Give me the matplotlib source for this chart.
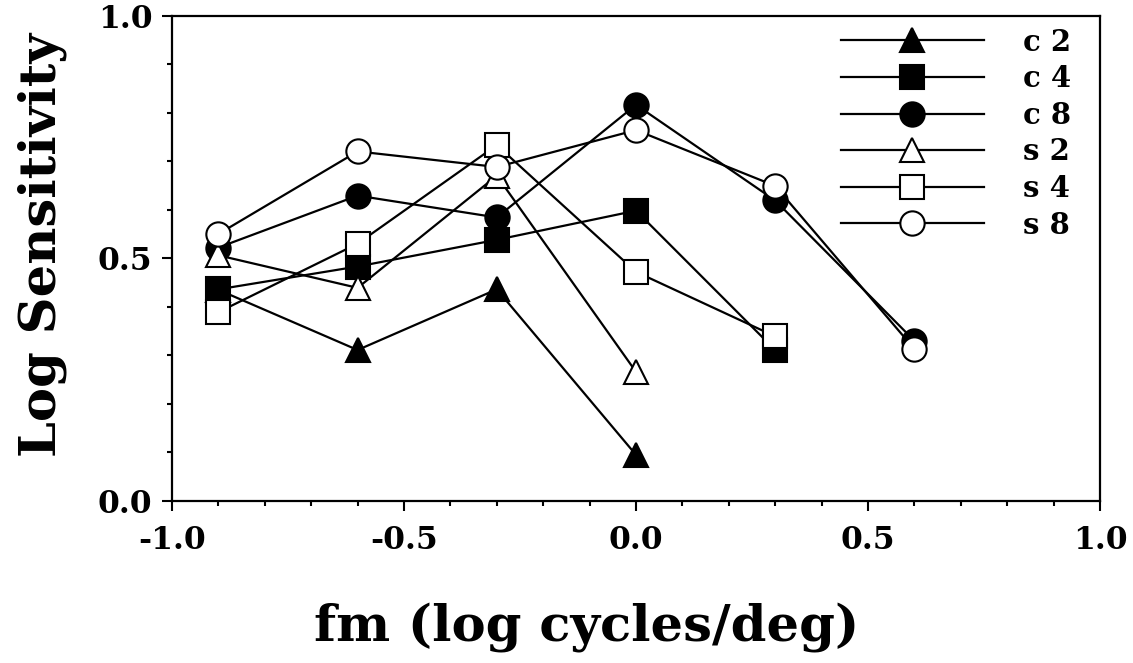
import matplotlib
matplotlib.use("Agg")
import matplotlib.pyplot as plt
from matplotlib.ticker import MultipleLocator

plt.rcParams['font.family'] = ['DejaVu Serif']
plt.rcParams['font.weight'] = 'bold'

# log spatial frequency of modulation
fm_c2 = [-0.9, -0.6, -0.3, 0.0]
sens_c2 = [0.435, 0.311, 0.436, 0.095]
fm_c4 = [-0.9, -0.6, -0.3, 0.0, 0.3]
sens_c4 = [0.436, 0.483, 0.538, 0.598, 0.311]
fm_c8 = [-0.9, -0.6, -0.3, 0.0, 0.3, 0.6]
sens_c8 = [0.522, 0.629, 0.584, 0.816, 0.619, 0.330]
fm_s2 = [-0.9, -0.6, -0.3, 0.0]
sens_s2 = [0.506, 0.439, 0.670, 0.266]
fm_s4 = [-0.9, -0.6, -0.3, 0.0, 0.3]
sens_s4 = [0.389, 0.530, 0.733, 0.472, 0.339]
fm_s8 = [-0.9, -0.6, -0.3, 0.0, 0.3, 0.6]
sens_s8 = [0.550, 0.720, 0.688, 0.764, 0.649, 0.313]

labels = ['c 2', 'c 4', 'c 8', 's 2', 's 4', 's 8']

fig = plt.figure(figsize=(11.33, 6.63), dpi=100)
ax = fig.add_axes([172 / 1133, 1 - 501 / 663, 928 / 1133, 485.5 / 663])

series = [
    (fm_c2, sens_c2, '^', 'black'),
    (fm_c4, sens_c4, 's', 'black'),
    (fm_c8, sens_c8, 'o', 'black'),
    (fm_s2, sens_s2, '^', 'white'),
    (fm_s4, sens_s4, 's', 'white'),
    (fm_s8, sens_s8, 'o', 'white'),
]
for (x, y, m, fc), lab in zip(series, labels):
    ax.plot(x, y, color='black', lw=1.6, marker=m, markersize=17.5,
            markerfacecolor=fc, markeredgecolor='black', markeredgewidth=1.5,
            label=lab)

ax.set_xlim(-1.0, 1.0)
ax.set_ylim(0.0, 1.0)
ax.xaxis.set_major_locator(MultipleLocator(0.5))
ax.xaxis.set_minor_locator(MultipleLocator(0.1))
ax.yaxis.set_major_locator(MultipleLocator(0.5))
ax.yaxis.set_minor_locator(MultipleLocator(0.1))
ax.xaxis.set_major_formatter(plt.FuncFormatter(lambda v, p: f"{v:.1f}"))
ax.yaxis.set_major_formatter(plt.FuncFormatter(lambda v, p: f"{v:.1f}"))

for s in ax.spines.values():
    s.set_linewidth(1.6)
ax.tick_params(which='major', direction='out', length=7.2, width=1.5,
               labelsize=22.5, pad=7)
ax.tick_params(axis='x', which='major', pad=10)
ax.tick_params(which='minor', direction='out', length=3.6, width=1.5)

fig.text(587 / 1133, 1 - 627 / 663, 'fm (log cycles/deg)', fontsize=36.8,
         fontweight='bold', ha='center', va='center')
fig.text(42 / 1133, 1 - 245 / 663, 'Log Sensitivity', fontsize=36.8,
         fontweight='bold', ha='center', va='center', rotation=90)

ax.legend(loc='upper left', bbox_to_anchor=((841 - 172) / 928, 0.975),
          frameon=False, fontsize=21, handlelength=4.9, handletextpad=1.35,
          labelspacing=0.26, borderpad=0, borderaxespad=0, markerscale=1.0)

fig.savefig('out.png', dpi=100)
